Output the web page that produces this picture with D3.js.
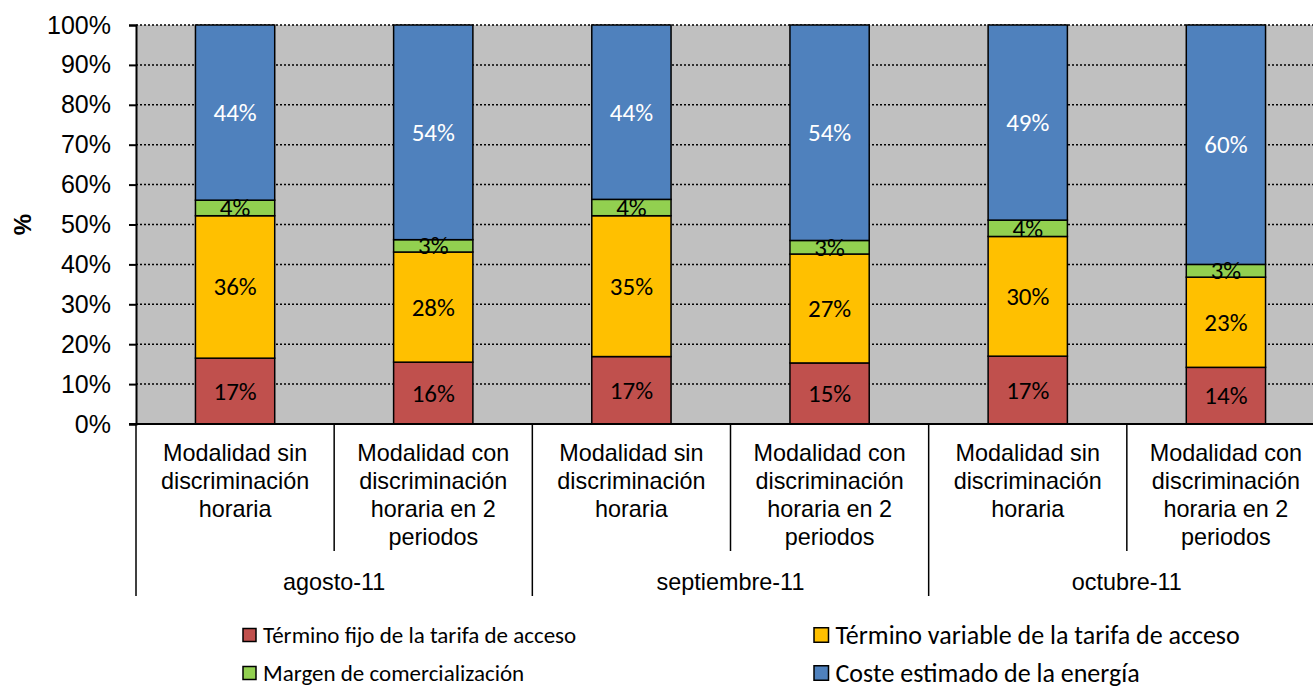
<!DOCTYPE html>
<html>
<head>
<meta charset="utf-8">
<script src="https://cdn.jsdelivr.net/npm/d3@7"></script>
<style>
  html, body { margin: 0; padding: 0; background: #ffffff; overflow: hidden; }
  svg { display: block; }
</style>
</head>
<body>
<svg id="chart" width="1313" height="688"></svg>
<script>
// Months (outer axis level) and tariff modalities (inner axis level)
const months = ["agosto-11", "septiembre-11", "octubre-11"];
const modalityLines = [
  ["Modalidad sin", "discriminación", "horaria"],
  ["Modalidad con", "discriminación", "horaria en 2", "periodos"]
];

// Share of each component in the bill (%), one value per bar
const fijo     = [16.5, 15.5, 16.9, 15.3, 17.0, 14.2];
const variable = [35.7, 27.6, 35.3, 27.3, 30.0, 22.6];
const margen   = [3.9, 3.1, 4.1, 3.4, 4.1, 3.2];
const energia  = [43.9, 53.8, 43.7, 54.0, 48.9, 60.0];

const seriesNames = [
  "Término fijo de la tarifa de acceso",
  "Término variable de la tarifa de acceso",
  "Margen de comercialización",
  "Coste estimado de la energía"
];
const seriesColors = ["#c0504d", "#ffc000", "#92d050", "#4f81bd"];
const labelColors = ["#000000", "#000000", "#000000", "#ffffff"];

const yTicks = [0, 10, 20, 30, 40, 50, 60, 70, 80, 90, 100];

// Build rows for the stack layout
const keys = ["fijo", "variable", "margen", "energia"];
const rows = fijo.map((_, i) => ({
  idx: i,
  fijo: fijo[i], variable: variable[i], margen: margen[i], energia: energia[i]
}));

const svg = d3.select("#chart");
const plotLeft = 136, plotRight = 1325, plotTop = 25, plotBottom = 424;

const x = d3.scaleBand()
  .domain(rows.map(d => d.idx))
  .range([plotLeft, plotRight])
  .paddingInner(0.6)
  .paddingOuter(0.3);
const step = x.step();

const xMonth = d3.scaleBand().domain(months).range([plotLeft, plotLeft + step * 6]);

const y = d3.scaleLinear().domain([0, 100]).range([plotBottom, plotTop]);

const axisFont = "Liberation Sans, Arial, Helvetica, sans-serif";
const labelFont = "Carlito, Calibri, Lato, 'Open Sans', sans-serif";

// Plot background
svg.append("rect")
  .attr("x", plotLeft).attr("y", plotTop)
  .attr("width", plotRight - plotLeft).attr("height", plotBottom - plotTop)
  .attr("fill", "#c0c0c0");

// Dotted gridlines
svg.append("g")
  .selectAll("line")
  .data(yTicks.filter(t => t > 0))
  .join("line")
  .attr("x1", plotLeft).attr("x2", plotRight)
  .attr("y1", d => y(d)).attr("y2", d => y(d))
  .attr("stroke", "#000")
  .attr("stroke-width", 1.5)
  .attr("stroke-dasharray", "2,2");

// Stacked bars
const stacked = d3.stack().keys(keys)(rows);
const layers = svg.append("g")
  .selectAll("g")
  .data(stacked)
  .join("g")
  .attr("fill", (d, i) => seriesColors[i]);

layers.selectAll("rect")
  .data(d => d)
  .join("rect")
  .attr("x", d => x(d.data.idx))
  .attr("y", d => y(d[1]))
  .attr("width", x.bandwidth())
  .attr("height", d => y(d[0]) - y(d[1]))
  .attr("stroke", "#000")
  .attr("stroke-width", 1.5);

// Value labels centred in each segment
stacked.forEach((layer, si) => {
  svg.append("g")
    .selectAll("text")
    .data(layer)
    .join("text")
    .attr("x", d => x(d.data.idx) + x.bandwidth() / 2)
    .attr("y", d => (y(d[0]) + y(d[1])) / 2)
    .attr("text-anchor", "middle")
    .attr("dominant-baseline", "central")
    .attr("font-family", labelFont)
    .attr("font-size", 25)
    .attr("fill", labelColors[si])
    .text(d => Math.round(d[1] - d[0]) + "%");
});

// Y axis
const yAxis = d3.axisLeft(y)
  .tickValues(yTicks)
  .tickFormat(d => d + "%")
  .tickSize(7)
  .tickPadding(18);
const yg = svg.append("g")
  .attr("transform", `translate(${plotLeft},0)`)
  .call(yAxis);
yg.attr("font-family", axisFont).attr("font-size", 25);
yg.select(".domain").attr("stroke", "#000").attr("stroke-width", 2);
yg.selectAll(".tick line").attr("stroke", "#000").attr("stroke-width", 2);
yg.selectAll(".tick text").attr("fill", "#000");

svg.append("text")
  .attr("transform", `translate(22,${(plotTop + plotBottom) / 2}) rotate(-90)`)
  .attr("text-anchor", "middle")
  .attr("dominant-baseline", "central")
  .attr("font-family", axisFont)
  .attr("font-weight", "bold")
  .attr("font-size", 24)
  .text("%");

// X axis baseline
svg.append("line")
  .attr("x1", plotLeft - 7).attr("x2", plotRight)
  .attr("y1", plotBottom).attr("y2", plotBottom)
  .attr("stroke", "#000").attr("stroke-width", 2);

// Category dividers: short ones between modalities, long ones between months
const dividers = d3.range(0, 7);
svg.append("g")
  .selectAll("line")
  .data(dividers)
  .join("line")
  .attr("x1", i => plotLeft + i * step)
  .attr("x2", i => plotLeft + i * step)
  .attr("y1", plotBottom)
  .attr("y2", i => (i % 2 === 0 ? 596 : 551))
  .attr("stroke", "#000")
  .attr("stroke-width", 1.5);

// Inner level labels (modalities)
rows.forEach(r => {
  const lines = modalityLines[r.idx % 2];
  const t = svg.append("text")
    .attr("text-anchor", "middle")
    .attr("font-family", axisFont)
    .attr("font-size", 23.4)
    .attr("fill", "#000");
  lines.forEach((ln, li) => {
    t.append("tspan")
      .attr("x", x(r.idx) + x.bandwidth() / 2)
      .attr("y", 453 + li * 28)
      .attr("dominant-baseline", "central")
      .text(ln);
  });
});

// Outer level labels (months)
svg.append("g")
  .selectAll("text")
  .data(months)
  .join("text")
  .attr("x", m => xMonth(m) + xMonth.bandwidth() / 2)
  .attr("y", 582)
  .attr("text-anchor", "middle")
  .attr("dominant-baseline", "central")
  .attr("font-family", axisFont)
  .attr("font-size", 23.4)
  .attr("fill", "#000")
  .text(m => m);

// Legend, two columns by two rows (right column set slightly larger)
const legendPos = [
  { x: 243, y: 635, s: 13, f: 23 }, { x: 814, y: 635, s: 14.5, f: 26 },
  { x: 243, y: 673, s: 13, f: 23 }, { x: 814, y: 673, s: 14.5, f: 26 }
];
const legend = svg.append("g")
  .selectAll("g")
  .data(seriesNames)
  .join("g")
  .attr("transform", (d, i) => `translate(${legendPos[i].x},${legendPos[i].y})`);
legend.append("rect")
  .attr("x", 0)
  .attr("y", (d, i) => -legendPos[i].s / 2)
  .attr("width", (d, i) => legendPos[i].s)
  .attr("height", (d, i) => legendPos[i].s)
  .attr("fill", (d, i) => seriesColors[i])
  .attr("stroke", "#000")
  .attr("stroke-width", 1.5);
legend.append("text")
  .attr("x", (d, i) => legendPos[i].s + 7)
  .attr("y", 0)
  .attr("dominant-baseline", "central")
  .attr("font-family", labelFont)
  .attr("font-size", (d, i) => legendPos[i].f)
  .attr("fill", "#000")
  .text(d => d);
</script>
</body>
</html>
